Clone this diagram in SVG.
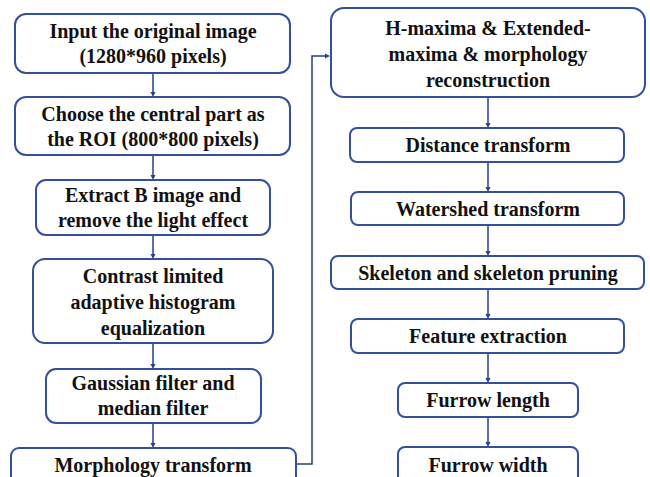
<svg xmlns="http://www.w3.org/2000/svg" width="650" height="477" viewBox="0 0 650 477">
  <defs>
    <style>
      .box { fill: #ffffff; stroke: #34509a; stroke-width: 2; }
      .lbl { font-family: "Liberation Serif", serif; font-weight: bold; font-size: 20px; fill: #111111; text-anchor: middle; }
      .conn { fill: none; stroke: #24408c; stroke-width: 1.5; }
      .head { fill: #24408c; }
    </style>
    <!-- downward arrowhead, tip at the origin -->
    <path id="tipDown" class="head" d="M-2.5,-5 L2.5,-5 L0,0 z"/>
    <!-- rightward arrowhead, tip at the origin -->
    <path id="tipRight" class="head" d="M-5,-2.5 L-5,2.5 L0,0 z"/>
  </defs>
  <rect width="650" height="477" fill="#ffffff"/>

  <!-- connectors -->
  <g id="connectors">
    <line class="conn" x1="153" y1="73" x2="153" y2="93"/>
    <use href="#tipDown" x="153" y="97"/>
    <line class="conn" x1="153" y1="155" x2="153" y2="176"/>
    <use href="#tipDown" x="153" y="180"/>
    <line class="conn" x1="153" y1="235" x2="153" y2="255"/>
    <use href="#tipDown" x="153" y="259"/>
    <line class="conn" x1="153" y1="343" x2="153" y2="365"/>
    <use href="#tipDown" x="153" y="369"/>
    <line class="conn" x1="153" y1="423" x2="153" y2="444"/>
    <use href="#tipDown" x="153" y="448"/>
    <polyline class="conn" points="296,464 312,464 312,56 326,56"/>
    <use href="#tipRight" x="330" y="56"/>
    <line class="conn" x1="488" y1="97" x2="488" y2="124"/>
    <use href="#tipDown" x="488" y="128"/>
    <line class="conn" x1="488" y1="162" x2="488" y2="188"/>
    <use href="#tipDown" x="488" y="192"/>
    <line class="conn" x1="488" y1="225" x2="488" y2="252"/>
    <use href="#tipDown" x="488" y="256"/>
    <line class="conn" x1="488" y1="289" x2="488" y2="315"/>
    <use href="#tipDown" x="488" y="319"/>
    <line class="conn" x1="488" y1="353" x2="488" y2="379"/>
    <use href="#tipDown" x="488" y="383"/>
    <line class="conn" x1="488" y1="417" x2="488" y2="443"/>
    <use href="#tipDown" x="488" y="447"/>
  </g>

  <!-- left column -->
  <g id="input">
    <rect class="box" x="15" y="14" width="275" height="59" rx="11"/>
    <text class="lbl" x="153" y="38">Input the original image</text>
    <text class="lbl" x="153" y="63">(1280*960 pixels)</text>
  </g>
  <g id="roi">
    <rect class="box" x="15" y="97" width="275" height="58" rx="11"/>
    <text class="lbl" x="153" y="121">Choose the central part as</text>
    <text class="lbl" x="153" y="146">the ROI (800*800 pixels)</text>
  </g>
  <g id="extract">
    <rect class="box" x="36" y="180" width="234" height="55" rx="10"/>
    <text class="lbl" x="153" y="202">Extract B image and</text>
    <text class="lbl" x="153" y="227">remove the light effect</text>
  </g>
  <g id="clahe">
    <rect class="box" x="33" y="259" width="240" height="84" rx="12"/>
    <text class="lbl" x="153" y="283">Contrast limited</text>
    <text class="lbl" x="153" y="309">adaptive histogram</text>
    <text class="lbl" x="153" y="335">equalization</text>
  </g>
  <g id="filter">
    <rect class="box" x="46" y="369" width="215" height="54" rx="10"/>
    <text class="lbl" x="153" y="390">Gaussian filter and</text>
    <text class="lbl" x="153" y="415">median filter</text>
  </g>
  <g id="morph">
    <rect class="box" x="11" y="448" width="285" height="40" rx="8"/>
    <text class="lbl" x="153" y="472">Morphology transform</text>
  </g>

  <!-- right column -->
  <g id="hmaxima">
    <rect class="box" x="331" y="8" width="314" height="89" rx="13"/>
    <text class="lbl" x="488" y="35">H-maxima &amp; Extended-</text>
    <text class="lbl" x="488" y="61">maxima &amp; morphology</text>
    <text class="lbl" x="488" y="87">reconstruction</text>
  </g>
  <g id="distance">
    <rect class="box" x="350" y="128" width="274" height="34" rx="7"/>
    <text class="lbl" x="488" y="152">Distance transform</text>
  </g>
  <g id="watershed">
    <rect class="box" x="351" y="192" width="273" height="33" rx="7"/>
    <text class="lbl" x="488" y="216">Watershed transform</text>
  </g>
  <g id="skeleton">
    <rect class="box" x="331" y="256" width="313" height="33" rx="7"/>
    <text class="lbl" x="488" y="280">Skeleton and skeleton pruning</text>
  </g>
  <g id="feature">
    <rect class="box" x="351" y="319" width="273" height="34" rx="7"/>
    <text class="lbl" x="488" y="343">Feature extraction</text>
  </g>
  <g id="furrow-length">
    <rect class="box" x="398" y="383" width="180" height="34" rx="7"/>
    <text class="lbl" x="488" y="407">Furrow length</text>
  </g>
  <g id="furrow-width">
    <rect class="box" x="398" y="447" width="180" height="40" rx="7"/>
    <text class="lbl" x="488" y="472">Furrow width</text>
  </g>
</svg>
